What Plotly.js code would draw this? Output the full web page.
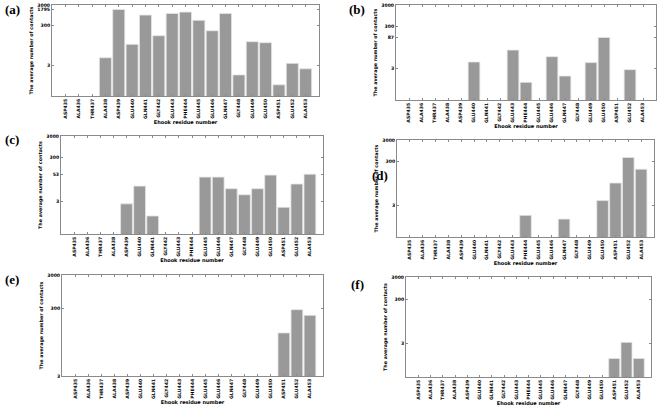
<!DOCTYPE html>
<html>
<head>
<meta charset="utf-8">
<script src="https://cdn.plot.ly/plotly-3.0.1.min.js"></script>
<style>html,body{margin:0;padding:0;background:#fff;}#chart{width:660px;height:410px;}</style>
</head>
<body>
<div id="chart"></div>
<script>
const residues = ["ASP435","ALA436","THR437","ALA438","ASP439","GLU440","GLN441","GLY442","GLU443","PHE444","GLU445","GLU446","GLN447","GLY448","GLU449","GLU450","ASP451","GLU452","ALA453"];
// average number of contacts per panel (0 = no bar)
const contactsA = [0,0,0,7.4,1795,34,950,91,1150,1340,525,160,1150,1.05,46,41,0.34,3.9,2.1];
const contactsB = [0,0,0,0,0,6,0,0,22,0.65,0,10.7,1.3,0,5.6,87,0,2.6,0];
const contactsC = [0,0,0,0,2.3,15,0.64,0,0,0,39,39,11.4,6,11.4,48,1.6,18.7,53];
const contactsD = [0,0,0,0,0,0,0,0,0,1.0,0,0,0.67,0,0,4.8,31,470,135];
const contactsE = [0,0,0,0,0,0,0,0,0,0,0,0,0,0,0,0,57,280,190];
const contactsF = [0,0,0,0,0,0,0,0,0,0,0,0,0,0,0,0,0.65,3.45,0.65];
const tickA = [3,300,1795,3000];
const tickB = [3,87,300,3000];
const tickC = [3,53,300,3000];
const tickD = [3,300,3000];
const tickE = [3,300,3000];
const tickF = [3,300,3000];
const panelLabels = ["(a)","(b)","(c)","(d)","(e)","(f)"];
const xTitle = "Ehook residue number";
const yTitle = "The average number of contacts";

const series = [contactsA,contactsB,contactsC,contactsD,contactsE,contactsF];
const ticks = [tickA,tickB,tickC,tickD,tickE,tickF];
const yLow = [0.095,0.095,0.095,0.1,3,0.095];

const W=660,H=410;
const boxes = [
  [52,319,5,96],[396,656,5,100],
  [61,323,136,234],[397,654,140,237],
  [62,323,275,376],[406,651,277,377]
];
const labelPos = [[12,9],[357,9],[12,139],[380,176],[12,279],[357,284]];

const traces=[]; const layout={
  width:W,height:H,margin:{l:0,r:0,t:0,b:0},showlegend:false,
  paper_bgcolor:"#fff",plot_bgcolor:"#fff",bargap:0.1,
  font:{family:"DejaVu Sans",color:"#000"},annotations:[]
};
const frame="#8a8a8a";
series.forEach((vals,i)=>{
  const n=i===0?"":String(i+1);
  traces.push({type:"bar",x:residues,y:vals,xaxis:"x"+n,yaxis:"y"+n,
    marker:{color:"#999999",line:{color:"#e6e6e6",width:0.8}},width:0.9,hoverinfo:"skip"});
  const b=boxes[i];
  layout["xaxis"+n]={domain:[b[0]/W,b[1]/W],anchor:"y"+n,type:"category",range:[-1,19],
    showline:true,linecolor:frame,linewidth:1,mirror:"ticks",ticks:"inside",ticklen:2,tickcolor:frame,
    tickangle:-90,tickfont:{size:4.6,family:"DejaVu Sans",weight:"bold"},showgrid:false,zeroline:false,
    title:{text:"<b>"+xTitle+"</b>",font:{size:5,family:"DejaVu Sans"},standoff:2},automargin:false,fixedrange:true};
  layout["yaxis"+n]={domain:[1-b[3]/H,1-b[2]/H],anchor:"x"+n,type:"log",
    range:[Math.log10(yLow[i]),Math.log10(3000)],
    tickvals:ticks[i],ticktext:ticks[i].map(String),
    showline:true,linecolor:frame,linewidth:1,mirror:"ticks",ticks:"inside",ticklen:2,tickcolor:frame,
    tickfont:{size:4.6,family:"DejaVu Sans",weight:"bold"},showgrid:false,zeroline:false,
    title:{text:"<b>"+yTitle+"</b>",font:{size:4.8,family:"DejaVu Sans"},standoff:3},automargin:false,fixedrange:true};
  layout.annotations.push({text:"<b>"+panelLabels[i]+"</b>",xref:"paper",yref:"paper",
    x:labelPos[i][0]/W,y:1-labelPos[i][1]/H,xanchor:"center",yanchor:"middle",showarrow:false,
    font:{size:13,family:"Liberation Serif",color:"#000"}});
});
Plotly.newPlot("chart",traces,layout,{staticPlot:true});
</script>
</body>
</html>
